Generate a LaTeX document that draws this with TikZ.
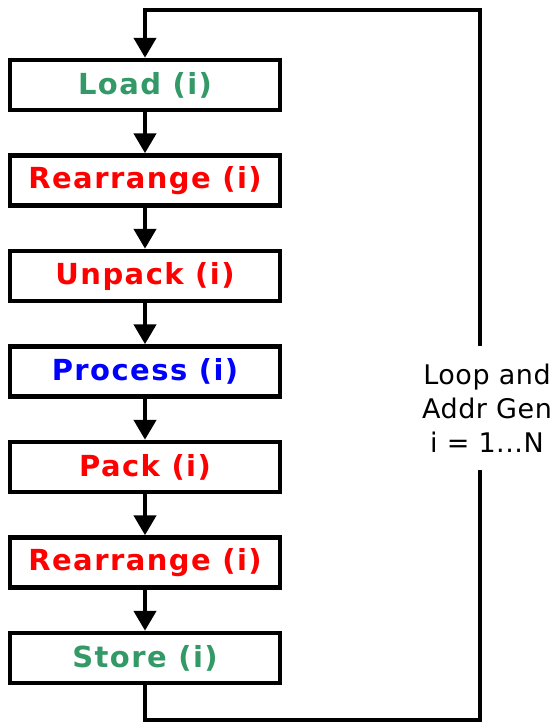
\documentclass[tikz,border=0pt]{standalone}
\usepackage{fontspec}
\usetikzlibrary{arrows.meta}
\newfontfamily\boxfont{DejaVu Sans}[LetterSpace=5]
\newfontfamily\sidefont{DejaVu Sans}[LetterSpace=2]
\definecolor{ldgreen}{HTML}{339966}
\definecolor{prred}{HTML}{FF0000}
\definecolor{prblue}{HTML}{0000FF}
\tikzset{
  stagebox/.style={draw=black, fill=white, line width=4.5pt, minimum width=270pt,
                   minimum height=50pt, inner sep=0pt, align=center,
                   font=\boxfont\bfseries\fontsize{29}{32}\selectfont},
  arr/.style={-{Triangle[length=20pt, width=22pt]}, line width=4.5pt, line join=miter},
  wire/.style={line width=4.5pt, line join=miter}}

\begin{document}
\begin{tikzpicture}[x=1pt, y=-1pt]
  \useasboundingbox (0,0) rectangle (558,723);
  \node[stagebox, text=ldgreen] (load)   at (145,85)    {Load (i)};
  \node[stagebox, text=prred]   (rear1)  at (145,180.5) {Rearrange (i)};
  \node[stagebox, text=prred]   (unpack) at (145,276)   {Unpack (i)};
  \node[stagebox, text=prblue]  (proc)   at (145,371.5) {Process (i)};
  \node[stagebox, text=prred]   (pack)   at (145,467)   {Pack (i)};
  \node[stagebox, text=prred]   (rear2)  at (145,562.5) {Rearrange (i)};
  \node[stagebox, text=ldgreen] (store)  at (145,658)   {Store (i)};
  \draw[arr] (load)   -- (rear1);
  \draw[arr] (rear1)  -- (unpack);
  \draw[arr] (unpack) -- (proc);
  \draw[arr] (proc)   -- (pack);
  \draw[arr] (pack)   -- (rear2);
  \draw[arr] (rear2)  -- (store);
  % the loop back from store to load
  \node[font=\sidefont\fontsize{27}{34}\selectfont, align=center, inner xsep=0pt,
        inner ysep=18pt] (loop) at (487,408) {Loop and\\Addr Gen\\i = 1...N};
  \coordinate (brc) at (480,720);
  \coordinate (trc) at (480,10);
  \draw[wire] (store.south) |- (brc) -- (brc |- loop.south);
  \draw[arr] (trc |- loop.north) -- (trc) -| (load.north);
\end{tikzpicture}
\end{document}
